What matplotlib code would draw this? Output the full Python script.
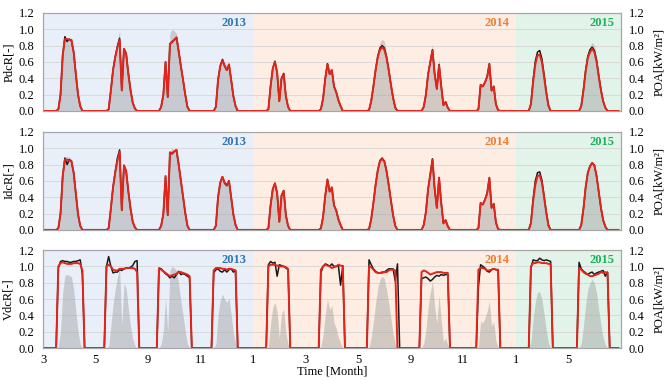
import numpy as np
import matplotlib
matplotlib.use("Agg")
import matplotlib.pyplot as plt

plt.rcParams['font.family'] = ['Liberation Serif', 'DejaVu Serif']

# === Data: one representative day per block, hourly values (start hour, values) ===
HOURS = 24
MONTH_TICKS = ["3", "5", "9", "11", "1", "3", "5", "9", "11", "1", "5"]
YEARS = ["2013", "2014", "2015"]
YEAR_BLOCKS = [4, 5, 2]

POA = [
    (7, [0.02, 0.2, 0.68, 0.89, 0.9, 0.89, 0.87, 0.72, 0.45, 0.2, 0.05]),
    (6, [0.02, 0.27, 0.53, 0.72, 0.87, 0.98, 0.27, 0.79, 0.73, 0.48, 0.27, 0.11, 0.03]),
    (6, [0.05, 0.21, 0.62, 0.2, 0.95, 1.0, 0.98, 0.95, 0.78, 0.58, 0.4, 0.21, 0.05]),
    (7, [0.05, 0.41, 0.59, 0.66, 0.6, 0.56, 0.61, 0.41, 0.19, 0.06]),
    (7, [0.02, 0.3, 0.5, 0.56, 0.45, 0.12, 0.42, 0.48, 0.18, 0.05]),
    (7, [0.02, 0.16, 0.42, 0.6, 0.47, 0.52, 0.31, 0.24, 0.13, 0.06]),
    (5, [0.01, 0.13, 0.33, 0.55, 0.73, 0.84, 0.88, 0.85, 0.72, 0.55, 0.36, 0.18, 0.05]),
    (6, [0.06, 0.22, 0.5, 0.68, 0.82, 0.5, 0.3, 0.65, 0.34, 0.08, 0.12, 0.04]),
    (7, [0.02, 0.33, 0.31, 0.37, 0.45, 0.58, 0.27, 0.32, 0.09, 0.01]),
    (7, [0.08, 0.36, 0.57, 0.68, 0.69, 0.6, 0.42, 0.22, 0.06]),
    (6, [0.06, 0.27, 0.53, 0.72, 0.8, 0.84, 0.8, 0.67, 0.47, 0.28, 0.13, 0.04]),
]

PDCR_MEAS = [
    (7, [0.02, 0.2, 0.68, 0.91, 0.85, 0.88, 0.86, 0.72, 0.45, 0.2, 0.06]),
    (6, [0.02, 0.25, 0.5, 0.66, 0.79, 0.89, 0.26, 0.76, 0.7, 0.46, 0.26, 0.1, 0.03]),
    (6, [0.05, 0.2, 0.6, 0.17, 0.82, 0.85, 0.87, 0.9, 0.73, 0.55, 0.38, 0.2, 0.05]),
    (7, [0.05, 0.38, 0.55, 0.63, 0.55, 0.5, 0.56, 0.38, 0.18, 0.06]),
    (7, [0.02, 0.3, 0.52, 0.61, 0.47, 0.12, 0.4, 0.46, 0.18, 0.05]),
    (7, [0.02, 0.15, 0.4, 0.58, 0.45, 0.5, 0.3, 0.23, 0.13, 0.06]),
    (5, [0.01, 0.12, 0.3, 0.5, 0.67, 0.77, 0.8, 0.77, 0.66, 0.5, 0.32, 0.16, 0.04]),
    (6, [0.05, 0.2, 0.45, 0.6, 0.75, 0.45, 0.27, 0.57, 0.3, 0.07, 0.11, 0.04]),
    (7, [0.02, 0.32, 0.3, 0.35, 0.42, 0.58, 0.25, 0.3, 0.08, 0.01]),
    (7, [0.09, 0.38, 0.61, 0.72, 0.74, 0.64, 0.45, 0.24, 0.07]),
    (6, [0.06, 0.26, 0.5, 0.67, 0.75, 0.78, 0.74, 0.62, 0.43, 0.26, 0.12, 0.04]),
]

PDCR_MODEL = [
    (7, [0.02, 0.2, 0.68, 0.88, 0.88, 0.87, 0.87, 0.72, 0.45, 0.2, 0.06]),
    (6, [0.02, 0.25, 0.5, 0.66, 0.78, 0.87, 0.25, 0.76, 0.7, 0.45, 0.25, 0.1, 0.03]),
    (6, [0.05, 0.2, 0.6, 0.17, 0.82, 0.84, 0.87, 0.9, 0.73, 0.55, 0.38, 0.2, 0.05]),
    (7, [0.05, 0.38, 0.55, 0.62, 0.55, 0.5, 0.57, 0.38, 0.18, 0.06]),
    (7, [0.02, 0.3, 0.52, 0.6, 0.47, 0.12, 0.4, 0.45, 0.18, 0.05]),
    (7, [0.02, 0.15, 0.4, 0.57, 0.45, 0.5, 0.3, 0.23, 0.13, 0.06]),
    (5, [0.01, 0.12, 0.3, 0.5, 0.66, 0.75, 0.78, 0.75, 0.65, 0.5, 0.32, 0.16, 0.04]),
    (6, [0.05, 0.2, 0.45, 0.6, 0.74, 0.45, 0.27, 0.56, 0.3, 0.07, 0.11, 0.04]),
    (7, [0.02, 0.32, 0.3, 0.35, 0.42, 0.57, 0.25, 0.3, 0.08, 0.01]),
    (7, [0.08, 0.35, 0.57, 0.68, 0.69, 0.6, 0.42, 0.22, 0.06]),
    (6, [0.06, 0.25, 0.48, 0.65, 0.72, 0.76, 0.72, 0.6, 0.42, 0.25, 0.12, 0.04]),
]

IDCR_MEAS = [
    (7, [0.02, 0.2, 0.66, 0.88, 0.8, 0.86, 0.84, 0.7, 0.44, 0.19, 0.05]),
    (6, [0.02, 0.26, 0.52, 0.71, 0.88, 0.98, 0.24, 0.79, 0.72, 0.47, 0.26, 0.1, 0.03]),
    (6, [0.05, 0.2, 0.65, 0.18, 0.94, 0.93, 0.96, 0.98, 0.8, 0.6, 0.4, 0.21, 0.05]),
    (7, [0.05, 0.4, 0.58, 0.65, 0.57, 0.54, 0.6, 0.4, 0.19, 0.06]),
    (7, [0.02, 0.3, 0.5, 0.57, 0.45, 0.1, 0.42, 0.48, 0.18, 0.05]),
    (7, [0.02, 0.16, 0.42, 0.62, 0.47, 0.52, 0.3, 0.24, 0.13, 0.06]),
    (5, [0.01, 0.13, 0.33, 0.55, 0.73, 0.85, 0.88, 0.84, 0.72, 0.55, 0.36, 0.18, 0.05]),
    (6, [0.06, 0.22, 0.5, 0.68, 0.87, 0.5, 0.27, 0.64, 0.33, 0.08, 0.12, 0.05]),
    (7, [0.02, 0.33, 0.31, 0.37, 0.45, 0.64, 0.27, 0.32, 0.09, 0.01]),
    (7, [0.09, 0.38, 0.6, 0.7, 0.71, 0.61, 0.42, 0.22, 0.06]),
    (6, [0.06, 0.26, 0.52, 0.7, 0.78, 0.82, 0.79, 0.66, 0.46, 0.27, 0.12, 0.04]),
]

IDCR_MODEL = [
    (7, [0.02, 0.2, 0.66, 0.86, 0.86, 0.85, 0.84, 0.7, 0.44, 0.19, 0.05]),
    (6, [0.02, 0.26, 0.52, 0.7, 0.85, 0.96, 0.24, 0.79, 0.72, 0.47, 0.26, 0.1, 0.03]),
    (6, [0.05, 0.2, 0.66, 0.18, 0.95, 0.94, 0.96, 0.98, 0.8, 0.6, 0.4, 0.21, 0.05]),
    (7, [0.05, 0.4, 0.58, 0.65, 0.58, 0.55, 0.6, 0.4, 0.19, 0.06]),
    (7, [0.02, 0.3, 0.5, 0.57, 0.45, 0.1, 0.42, 0.48, 0.18, 0.05]),
    (7, [0.02, 0.16, 0.42, 0.61, 0.47, 0.52, 0.3, 0.24, 0.13, 0.06]),
    (5, [0.01, 0.13, 0.33, 0.55, 0.73, 0.84, 0.87, 0.84, 0.72, 0.55, 0.36, 0.18, 0.05]),
    (6, [0.06, 0.22, 0.5, 0.68, 0.86, 0.5, 0.27, 0.64, 0.33, 0.08, 0.12, 0.04]),
    (7, [0.02, 0.33, 0.31, 0.37, 0.45, 0.63, 0.27, 0.32, 0.09, 0.01]),
    (7, [0.08, 0.35, 0.55, 0.66, 0.67, 0.58, 0.4, 0.21, 0.05]),
    (6, [0.06, 0.26, 0.52, 0.7, 0.78, 0.82, 0.79, 0.66, 0.46, 0.27, 0.12, 0.04]),
]

VDCR_MEAS = [
    (7, [0.98, 1.06, 1.07, 1.06, 1.06, 1.05, 1.05, 1.06, 1.06, 1.07, 1.08, 0.9]),
    (5, [1.0, 1.12, 1.0, 0.92, 0.93, 0.93, 0.96, 0.95, 0.97, 0.98, 0.98, 0.99, 1.01, 1.06, 1.07]),
    (5, [0.98, 0.97, 0.94, 0.91, 0.89, 0.86, 0.88, 0.86, 0.9, 0.94, 0.9, 0.91, 0.9, 0.88, 0.86]),
    (6, [0.92, 0.96, 0.97, 0.94, 0.93, 0.96, 0.93, 0.96, 0.97, 0.93, 0.95]),
    (7, [1.02, 1.06, 1.04, 1.05, 0.88, 1.02, 1.01, 1.0, 0.98, 0.96]),
    (7, [0.92, 1.0, 1.03, 1.02, 1.0, 1.03, 1.0, 1.0, 1.01, 0.77, 1.01]),
    (5, [1.08, 1.02, 0.97, 0.94, 0.92, 0.92, 0.93, 0.93, 0.95, 0.97, 0.97, 0.97, 0.82, 1.03]),
    (5, [0.85, 0.86, 0.87, 0.85, 0.82, 0.84, 0.87, 0.89, 0.88, 0.9, 0.89, 0.9, 0.9]),
    (7, [0.75, 1.02, 1.0, 0.98, 0.94, 0.93, 0.96, 0.97, 0.96, 0.95]),
    (7, [0.98, 1.08, 1.07, 1.07, 1.1, 1.08, 1.07, 1.08, 1.07, 1.06]),
    (5, [1.05, 0.97, 0.94, 0.92, 0.9, 0.92, 0.93, 0.9, 0.92, 0.93, 0.94, 0.95, 0.88, 0.93]),
]

VDCR_MODEL = [
    (7, [1.0, 1.04, 1.05, 1.04, 1.03, 1.03, 1.03, 1.04, 1.04, 1.04, 1.03, 0.95]),
    (5, [1.0, 1.02, 1.0, 0.96, 0.95, 0.95, 0.97, 0.97, 0.97, 0.98, 0.98, 0.98, 0.98, 0.97, 0.93]),
    (5, [0.97, 0.96, 0.94, 0.92, 0.9, 0.88, 0.89, 0.9, 0.91, 0.93, 0.93, 0.92, 0.91, 0.9, 0.88]),
    (6, [0.95, 0.98, 0.98, 0.98, 0.97, 0.97, 0.96, 0.97, 0.97, 0.96, 0.95]),
    (7, [1.0, 1.02, 1.02, 1.02, 1.01, 1.0, 1.0, 1.0, 0.99, 0.97]),
    (7, [0.96, 1.0, 1.02, 1.01, 1.0, 0.98, 0.99, 1.0, 1.02, 1.01, 1.0]),
    (5, [1.0, 0.99, 0.96, 0.93, 0.92, 0.92, 0.92, 0.93, 0.93, 0.95, 0.96, 0.96, 0.95]),
    (5, [0.93, 0.95, 0.94, 0.92, 0.9, 0.91, 0.92, 0.93, 0.93, 0.93, 0.92, 0.92, 0.92]),
    (7, [0.96, 0.98, 0.98, 0.97, 0.95, 0.95, 0.96, 0.97, 0.96, 0.96]),
    (7, [1.0, 1.04, 1.04, 1.05, 1.05, 1.04, 1.04, 1.04, 1.03, 1.03]),
    (5, [0.98, 0.96, 0.93, 0.91, 0.9, 0.88, 0.88, 0.89, 0.9, 0.91, 0.93, 0.92, 0.93, 0.92]),
]


def expand(blocks):
    # night hours are zero
    y = np.zeros(len(blocks) * HOURS)
    for k, (h0, vals) in enumerate(blocks):
        i = k * HOURS + h0
        y[i:i + len(vals)] = vals
    return y


n = len(MONTH_TICKS) * HOURS
x = np.arange(n)
poa = expand(POA)

year_bg = ["#e9eff8", "#fdede3", "#e2f4e9"]
year_fg = ["#2e75b6", "#ed7d31", "#1fae5a"]

panels = [
    ("PdcR[-]", PDCR_MEAS, PDCR_MODEL),
    ("IdcR[-]", IDCR_MEAS, IDCR_MODEL),
    ("VdcR[-]", VDCR_MEAS, VDCR_MODEL),
]
bottoms = [0.708, 0.395, 0.084]
L, W, H = 0.0645, 0.866, 0.258

fig = plt.figure(figsize=(6.67, 3.80), dpi=100)

for p, (label, meas, model) in enumerate(panels):
    ax = fig.add_axes([L, bottoms[p], W, H])
    ax2 = ax.twinx()
    ax.set_zorder(ax2.get_zorder() + 1)
    ax.patch.set_visible(False)

    # year background bands
    start = 0
    for yr, nb, bg, fg in zip(YEARS, YEAR_BLOCKS, year_bg, year_fg):
        end = start + nb * HOURS
        ax2.axvspan(start, end, color=bg, zorder=0, lw=0)
        ax.text(end - 3, 1.08, yr, color=fg, fontsize=9, fontweight="bold",
                ha="right", va="center")
        start = end

    ax2.fill_between(x, 0, poa, color="#999999", alpha=0.42, lw=0, zorder=2)
    ax2.set_ylim(0, 1.2)
    ax2.set_yticks(np.arange(0, 1.21, 0.2))
    ax2.set_yticklabels([f"{v:.1f}" for v in np.arange(0, 1.21, 0.2)])
    ax2.yaxis.grid(True, color="#d6d6d6", lw=0.6, zorder=1)
    ax2.set_axisbelow(True)
    ax2.set_ylabel("POA[kW/m²]", fontsize=9, labelpad=6)

    ax.plot(x, expand(meas), color="#1a1a1a", lw=1.1)
    ax.plot(x, expand(model), color="#e3241b", lw=1.4)
    ax.set_xlim(0, n)
    ax.set_ylim(0, 1.2)
    ax.set_yticks(np.arange(0, 1.21, 0.2))
    ax.set_yticklabels([f"{v:.1f}" for v in np.arange(0, 1.21, 0.2)])
    ax.set_ylabel(label, fontsize=9, labelpad=3)
    ax.set_xticks(np.arange(len(MONTH_TICKS)) * HOURS)

    for a in (ax, ax2):
        a.tick_params(length=0, labelsize=9, pad=6)
        for s in a.spines.values():
            s.set_color("#a6a6a6")
            s.set_linewidth(0.8)

    if p == 2:
        ax.set_xticklabels(MONTH_TICKS)
        ax.tick_params(axis="x", pad=4)
        ax.set_xlabel("Time [Month]", fontsize=9, labelpad=0)
    else:
        ax.set_xticklabels([])

fig.savefig("out.png", dpi=100)
